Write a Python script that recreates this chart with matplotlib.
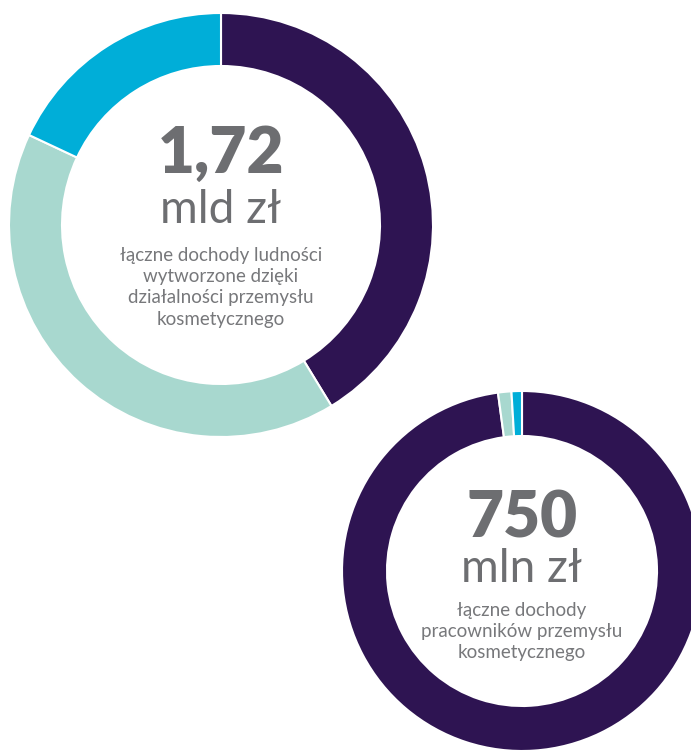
import matplotlib.pyplot as plt

# income split behind each total (segment order: clockwise from 12 o'clock)
population_income = [0.71, 0.70, 0.31]      # mld zł
employee_income = [734, 9, 7]               # mln zł
segment_colors = ["#2e1452", "#a8d8cf", "#00aed8"]

population_total = "1,72"
population_unit = "mld zł"
population_desc = "łączne dochody ludności\nwytworzone dzięki\ndziałalności przemysłu\nkosmetycznego"

employee_total = "750"
employee_unit = "mln zł"
employee_desc = "łączne dochody\npracowników przemysłu\nkosmetycznego"

TEXT_GREY = "#6d6e71"
W, H = 691, 751

plt.rcParams["font.family"] = ["Lato", "DejaVu Sans"]

fig = plt.figure(figsize=(W / 100, H / 100), dpi=100)
ax = fig.add_axes([0, 0, 1, 1])


def donut(values, center, radius, total, unit, desc, total_y, unit_y, desc_y):
    ax.pie(values, colors=segment_colors, startangle=90, counterclock=False,
           center=center, radius=radius,
           wedgeprops=dict(width=radius * 0.25, edgecolor="white", linewidth=1.5))
    cx = center[0]
    ax.text(cx, total_y, total, ha="center", va="baseline", fontsize=46,
            fontweight="heavy", color=TEXT_GREY)
    ax.text(cx, unit_y, unit, ha="center", va="baseline", fontsize=33,
            color=TEXT_GREY)
    ax.text(cx, desc_y, desc, ha="center", va="top", multialignment="center",
            fontsize=13.5, linespacing=1.3, color="#77787b")


donut(population_income, (221, 526), 212, population_total, population_unit,
      population_desc, 578, 528, 504)
donut(employee_income, (522, 180), 180, employee_total, employee_unit,
      employee_desc, 214, 169, 149)

ax.set_xlim(0, W)
ax.set_ylim(0, H)
ax.set_aspect("equal")
ax.axis("off")

fig.savefig("out.png", dpi=100)
